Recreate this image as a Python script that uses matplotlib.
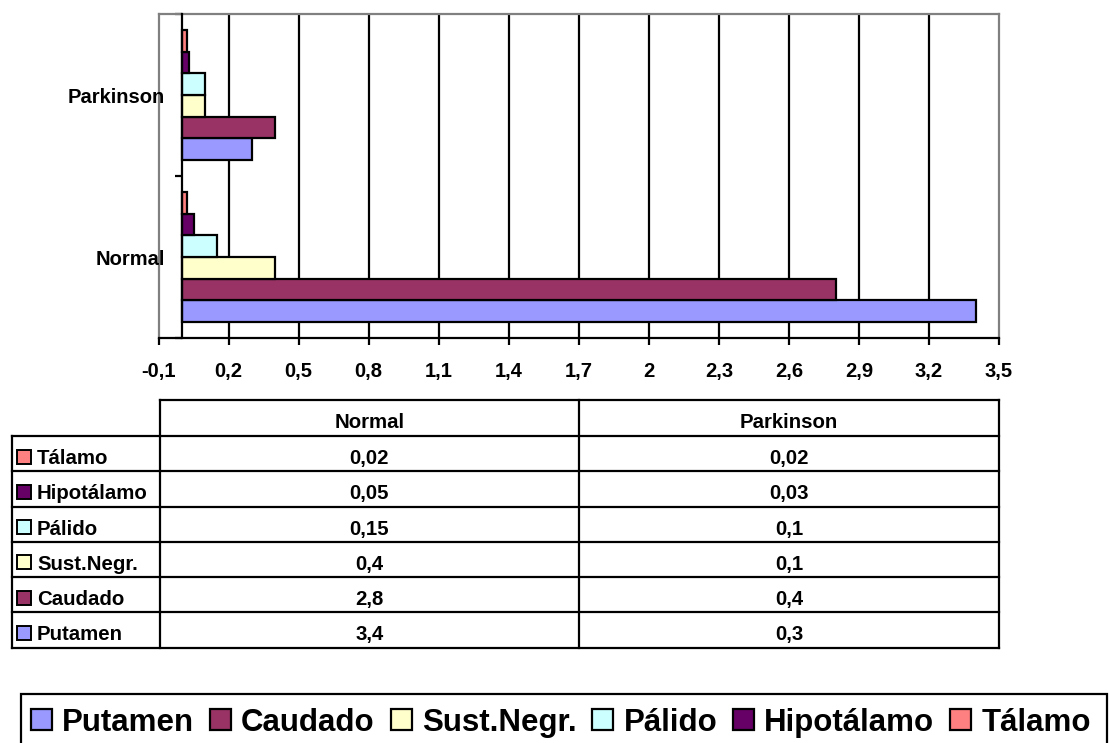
import numpy as np
import matplotlib
matplotlib.use("Agg")
import matplotlib.pyplot as plt
from matplotlib.patches import Rectangle
from matplotlib.lines import Line2D

plt.rcParams["font.family"] = ["Liberation Sans", "DejaVu Sans"]
plt.rcParams["font.weight"] = "bold"

# ---- data -------------------------------------------------------------
categories = ["Normal", "Parkinson"]
series_names = ["Putamen", "Caudado", "Sust.Negr.", "Pálido", "Hipotálamo", "Tálamo"]
series_colors = ["#9999FF", "#993366", "#FFFFCC", "#CCFFFF", "#660066", "#FF8080"]
normal_values = [3.4, 2.8, 0.4, 0.15, 0.05, 0.02]
parkinson_values = [0.3, 0.4, 0.1, 0.1, 0.03, 0.02]
x_ticks = np.round(np.arange(-0.1, 3.5 + 1e-9, 0.3), 1)

values_by_category = [normal_values, parkinson_values]


def fmt(v):
    return f"{v:g}".replace(".", ",")


W, H = 1109, 743
fig = plt.figure(figsize=(W / 100, H / 100), dpi=100)


def fx(x):
    return x / W


def fy(y):
    return 1 - y / H


# ---- bar chart --------------------------------------------------------
left, right, top, bottom = 158.5, 999.0, 14.0, 338.0
ax = fig.add_axes([fx(left), fy(bottom), fx(right - left), (bottom - top) / H])
ax.set_xlim(x_ticks[0], x_ticks[-1])
ax.set_ylim(0, len(categories))

group_w = 0.8
bar_h = group_w / len(series_names)
centers = np.arange(len(categories)) + 0.5
for i, (name, col) in enumerate(zip(series_names, series_colors)):
    vals = [values_by_category[c][i] for c in range(len(categories))]
    ys = centers - group_w / 2 + bar_h * (i + 0.5)
    ax.barh(ys, vals, height=bar_h, color=col, edgecolor="black",
            linewidth=1.6, zorder=3)

# vertical gridlines at the inner ticks
ax.vlines(x_ticks[1:-1], 0, len(categories), colors="black", linewidth=1.6, zorder=1)

# frame: grey plot-area border, black value axis at zero and category baseline
for s in ("top", "right"):
    ax.spines[s].set_color("#808080")
    ax.spines[s].set_linewidth(1.6)
ax.spines["bottom"].set_color("black")
ax.spines["bottom"].set_linewidth(1.6)
ax.spines["left"].set_position(("data", 0))
ax.spines["left"].set_color("black")
ax.spines["left"].set_linewidth(1.6)
ax.spines["left"].set_zorder(4)
ax.add_line(Line2D([0, 0], [0, 1], transform=ax.transAxes, color="#808080",
                   linewidth=1.6, clip_on=False, zorder=0.5))

ax.set_xticks(x_ticks)
ax.set_xticklabels([fmt(v) for v in x_ticks], fontsize=14.5, fontweight="bold")
ax.tick_params(axis="x", direction="out", length=5, width=1.6, pad=12)

ax.set_yticks(np.arange(len(categories) + 1))
ax.set_yticklabels([])
ax.set_yticks(centers, minor=True)
ax.set_yticklabels(categories, minor=True, fontsize=14.5, fontweight="bold")
ax.tick_params(axis="y", which="major", direction="out", length=5, width=1.6)
ax.tick_params(axis="y", which="minor", length=0, pad=12)
for t in ax.yaxis.get_major_ticks():
    t.tick1line.set_zorder(5)
    t.tick1line.set_clip_on(False)

# ---- data table -------------------------------------------------------
lw_t = 1.6
t_top = 399.5
row0 = 436.0
row_h = 35.25
col_x = [12.0, 160.0, 579.0, 999.0]
n_rows = len(series_names)
t_bottom = row0 + row_h * n_rows
tfs = 14.7
txt_dy = 3.0


def hline(y, x0, x1):
    fig.add_artist(Line2D([fx(x0), fx(x1)], [fy(y), fy(y)], color="black",
                          linewidth=lw_t, solid_capstyle="projecting"))


def vline(x, y0, y1):
    fig.add_artist(Line2D([fx(x), fx(x)], [fy(y0), fy(y1)], color="black",
                          linewidth=lw_t, solid_capstyle="projecting"))


hline(t_top, col_x[1], col_x[3])
for r in range(n_rows + 1):
    hline(row0 + r * row_h, col_x[0], col_x[3])
vline(col_x[0], row0, t_bottom)
for x in col_x[1:]:
    vline(x, t_top, t_bottom)

for c, cat in enumerate(categories):
    fig.text(fx((col_x[c + 1] + col_x[c + 2]) / 2), fy((t_top + row0) / 2 + txt_dy), cat,
             ha="center", va="center_baseline", fontsize=tfs, fontweight="bold")

row_order = list(range(len(series_names)))[::-1]
for r, i in enumerate(row_order):
    yc = row0 + row_h * (r + 0.5)
    sw = 14
    fig.add_artist(Rectangle((fx(17), fy(yc + txt_dy + sw / 2)), sw / W, sw / H,
                             facecolor=series_colors[i], edgecolor="black",
                             linewidth=1.4))
    fig.text(fx(37), fy(yc + txt_dy), series_names[i], ha="left",
             va="center_baseline", fontsize=tfs, fontweight="bold")
    for c in range(len(categories)):
        fig.text(fx((col_x[c + 1] + col_x[c + 2]) / 2), fy(yc + txt_dy),
                 fmt(values_by_category[c][i]), ha="center",
                 va="center_baseline", fontsize=tfs, fontweight="bold")

# ---- legend -----------------------------------------------------------
fig.add_artist(Rectangle((fx(20.7), fy(780)), (1107 - 20.7) / W, (780 - 694) / H,
                         facecolor="none", edgecolor="black", linewidth=1.6))

fig.canvas.draw()
renderer = fig.canvas.get_renderer()
x = 31.0
leg_y = 719.5
sw = 21
for name, col in zip(series_names, series_colors):
    fig.add_artist(Rectangle((fx(x), fy(leg_y + sw / 2)), sw / W, sw / H,
                             facecolor=col, edgecolor="black", linewidth=1.6))
    t = fig.text(fx(x + 31), fy(leg_y), name, ha="left", va="center_baseline",
                 fontsize=22.5, fontweight="bold")
    bb = t.get_window_extent(renderer)
    x = x + 31 + bb.width + 16

fig.savefig("out.png", dpi=100)
